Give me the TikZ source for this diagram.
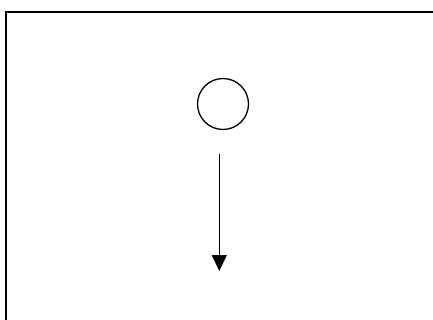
\documentclass[tikz,border=0pt]{standalone}
\usetikzlibrary{arrows.meta}
\begin{document}
\begin{tikzpicture}[x=1pt,y=1pt,
  frameline/.style={line width=2pt},
  statecircle/.style={draw,circle,line width=1.3pt,minimum size=51pt,inner sep=0pt},
  flowarrow/.style={line width=1.2pt,-{Triangle[width=15pt,length=16pt]}}]
\useasboundingbox (0,0) rectangle (433,-320);
\draw[frameline] (6,-320) -- (6,-12) -- (433,-12);
\node[statecircle] (c) at (223,-104) {};
\coordinate (s) at (219.3,-154);
\coordinate (e) at (219.3,-271);
\draw[flowarrow] (s) -- (e);
\end{tikzpicture}
\end{document}
